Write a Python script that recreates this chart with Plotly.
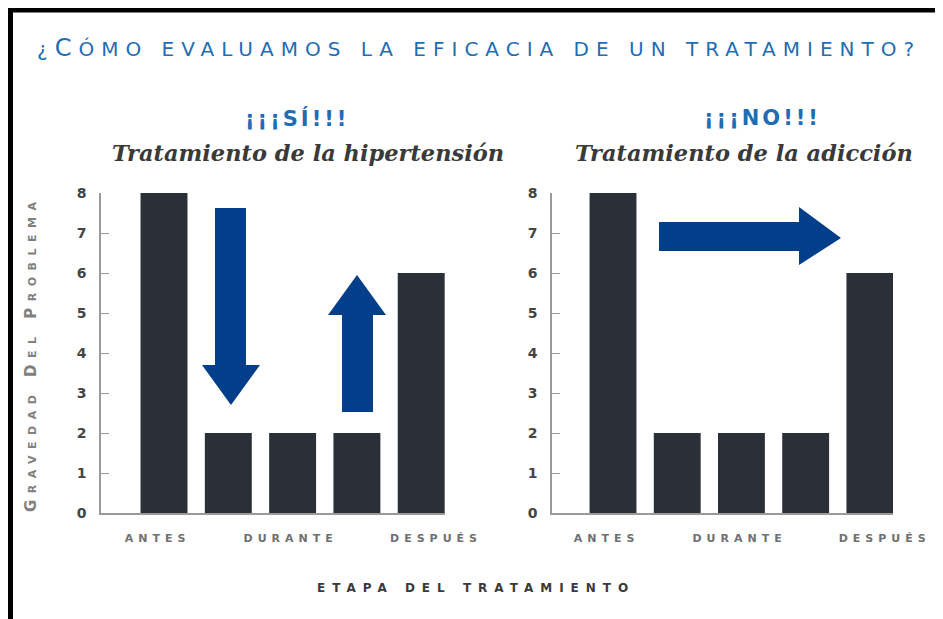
import plotly.graph_objects as go

# ---------------- data ----------------
stage_positions = [0, 1, 2, 3, 4]
hipertension_values = [8, 2, 2, 2, 6]
adiccion_values = [8, 2, 2, 2, 6]
stage_tick_positions = [-0.1, 1.97, 4.23]
stage_tick_labels = ["ANTES", "DURANTE", "DESPUÉS"]
y_ticks = [0, 1, 2, 3, 4, 5, 6, 7, 8]

# the page body has an 8px margin; work in screen pixels and convert
OFF = 8
W, H = 943 - OFF, 619 - OFF
def px(x):
    return (x - OFF) / W
def py(y):
    return 1 - (y - OFF) / H

BAR = "#2b3038"
AXIS = "#9a9a9a"
ARROW = "#023e8a"
BLUE = "#1f6db3"

def ls(text, spacing):
    return f'<span style="letter-spacing:{spacing}px">{text}</span>'

fig = go.Figure()
fig.add_trace(go.Bar(x=stage_positions, y=hipertension_values, marker_color=BAR,
                     marker_line_width=0, xaxis="x", yaxis="y", showlegend=False))
fig.add_trace(go.Bar(x=stage_positions, y=adiccion_values, marker_color=BAR,
                     marker_line_width=0, xaxis="x2", yaxis="y2", showlegend=False))

xcommon = dict(tickmode="array", tickvals=stage_tick_positions,
               ticktext=[ls(t, 5) for t in stage_tick_labels],
               ticks="", showline=True, linecolor=AXIS, linewidth=1.5,
               showgrid=False, zeroline=False, automargin=False,
               tickfont=dict(family="DejaVu Sans", size=11, color="#707070", weight="bold"),
               ticklabelstandoff=14)
ycommon = dict(range=[0, 8], tickvals=y_ticks, ticks="inside", ticklen=8,
               tickcolor=AXIS, showline=True, linecolor=AXIS, linewidth=1.5,
               showgrid=False, zeroline=False, automargin=False,
               tickfont=dict(family="DejaVu Sans", size=14, color="#444444", weight="bold"),
               ticklabelstandoff=10)

fig.update_layout(
    width=W, height=H, margin=dict(l=0, r=0, t=0, b=0),
    paper_bgcolor="white", plot_bgcolor="white", template="none",
    bargap=0.27,
    xaxis=dict(domain=[px(101), px(445)], range=[-0.98, 4.37], anchor="y", **xcommon),
    yaxis=dict(domain=[py(513), py(193)], anchor="x", **ycommon),
    xaxis2=dict(domain=[px(552), px(893)], range=[-0.95, 4.36], anchor="y2", **xcommon),
    yaxis2=dict(domain=[py(513), py(193)], anchor="x2", **ycommon),
)

title_text = ("¿" + '<span style="font-size:24px">C</span>'
              + "ÓMO EVALUAMOS LA EFICACIA DE UN TRATAMIENTO?")

annotations = [
    dict(text=ls(title_text, 7.0),
         x=px(35), y=py(48), xanchor="left", yanchor="middle",
         font=dict(family="DejaVu Sans", size=20, color=BLUE)),
    dict(text=ls("¡¡¡SÍ!!!", 3), x=px(297), y=py(118), xanchor="center", yanchor="middle",
         font=dict(family="DejaVu Sans", size=21, color=BLUE, weight="bold")),
    dict(text=ls("¡¡¡NO!!!", 3), x=px(762), y=py(118), xanchor="center", yanchor="middle",
         font=dict(family="DejaVu Sans", size=21, color=BLUE, weight="bold")),
    dict(text="<b><i>Tratamiento de la hipertensión</i></b>", x=px(308), y=py(153),
         xanchor="center", yanchor="middle",
         font=dict(family="DejaVu Serif", size=22.5, color="#3a3a3a")),
    dict(text="<b><i>Tratamiento de la adicción</i></b>", x=px(744), y=py(153),
         xanchor="center", yanchor="middle",
         font=dict(family="DejaVu Serif", size=22.5, color="#3a3a3a")),
    dict(text=ls("Gravedad Del Problema", 6.5), x=px(31), y=py(354), textangle=-90,
         xanchor="center", yanchor="middle",
         font=dict(family="DejaVu Sans", size=15, color="#808080", variant="small-caps",
                   weight="bold")),
    dict(text=ls("ETAPA DEL TRATAMIENTO", 7), x=px(476), y=py(588),
         xanchor="center", yanchor="middle",
         font=dict(family="DejaVu Sans", size=12, color="#3a3a3a", weight="bold")),
]
for a in annotations:
    a.update(xref="paper", yref="paper", showarrow=False)
fig.update_layout(annotations=annotations)

def path(points):
    return "M " + " L ".join(f"{px(x):.5f},{py(y):.5f}" for x, y in points) + " Z"

down_arrow = [(215, 208), (246, 208), (246, 365), (260, 365), (231, 405),
              (202, 365), (215, 365)]
up_arrow = [(342, 412), (373, 412), (373, 315), (386, 315), (357, 275),
            (328, 315), (342, 315)]
right_arrow = [(659, 222), (799, 222), (799, 207), (841, 238), (799, 265),
               (799, 251), (659, 251)]

shapes = []
for pts in (down_arrow, up_arrow, right_arrow):
    shapes.append(dict(type="path", path=path(pts), xref="paper", yref="paper",
                       fillcolor=ARROW, line=dict(width=0)))
# frame (top and left edges)
shapes.append(dict(type="rect", xref="paper", yref="paper", x0=px(8), x1=px(943),
                   y0=py(12.5), y1=py(7), fillcolor="black", line=dict(width=0)))
shapes.append(dict(type="rect", xref="paper", yref="paper", x0=px(8), x1=px(13),
                   y0=py(619), y1=py(7), fillcolor="black", line=dict(width=0)))
fig.update_layout(shapes=shapes)

fig.write_html("out.html")
